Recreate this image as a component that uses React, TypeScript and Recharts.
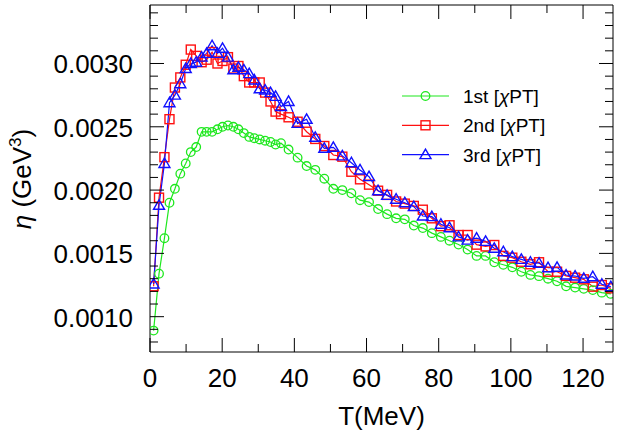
import { LineChart, Line, XAxis, YAxis, Legend } from 'recharts'

// temperature grid (MeV), shared by all three orders
const TEMPS = [
  1.0, 2.5, 4.0, 5.4, 6.9, 8.4, 9.9, 11.3, 12.8, 14.3, 15.7, 17.2, 18.7, 20.1, 21.6, 23.1, 24.5,
  26.0, 27.5, 28.9, 30.4, 31.9, 33.4, 34.8, 36.3,
  38.4, 40.9, 43.4, 45.8, 48.3, 50.8, 53.3, 55.8, 58.2, 60.7, 63.2, 65.7, 68.2, 70.6, 73.1, 75.6,
  78.1, 80.6, 83.0, 85.5, 88.0, 90.5, 93.0, 95.4, 97.9, 100.4, 102.9, 105.4, 107.8, 110.3, 112.8,
  115.3, 117.8, 120.2, 122.7, 125.2, 127.7,
]

const FIRST = [
  0.00089, 0.00134, 0.00162, 0.0019, 0.00201, 0.00213, 0.00221, 0.0023, 0.00234, 0.00246, 0.00246,
  0.00246, 0.00248, 0.0025, 0.00251, 0.0025, 0.00248, 0.00245, 0.00242, 0.00241, 0.0024, 0.00239,
  0.00238, 0.00236, 0.00237,
  0.00232, 0.002256, 0.00219, 0.00216, 0.00209, 0.00201, 0.002, 0.001975, 0.00192, 0.001905,
  0.00185, 0.00181, 0.001777, 0.001769, 0.00172, 0.0017, 0.00166, 0.00163, 0.0016, 0.00157,
  0.00153, 0.00148, 0.00148, 0.00143, 0.00141, 0.00139, 0.001355, 0.00133, 0.00132, 0.0013,
  0.00128, 0.00124, 0.00123, 0.00122, 0.00121, 0.00119, 0.00118,
]

const SECOND = [
  0.00124, 0.00194, 0.00226, 0.00256, 0.00281, 0.00289, 0.00299, 0.00311, 0.00306, 0.00301,
  0.00303, 0.00309, 0.003, 0.00302, 0.00305, 0.00296, 0.00298, 0.0029, 0.00285, 0.00285, 0.00285,
  0.00277, 0.0027, 0.00262, 0.0026,
  0.002575, 0.00254, 0.002461, 0.002404, 0.002348, 0.002277, 0.002264, 0.002145, 0.002085,
  0.002043, 0.001995, 0.001962, 0.00191, 0.001893, 0.001875, 0.001845, 0.001777, 0.001715,
  0.001722, 0.001645, 0.001645, 0.001569, 0.001555, 0.001566, 0.00148, 0.001466, 0.001434,
  0.001414, 0.00143, 0.001355, 0.001355, 0.001322, 0.001308, 0.001295, 0.001237, 0.00125, 0.001224,
]

const THIRD = [
  0.001258, 0.00188, 0.00221, 0.00269, 0.00275, 0.00284, 0.00296, 0.003, 0.00301, 0.00305,
  0.00308, 0.00314, 0.00308, 0.00312, 0.00305, 0.00295, 0.00297, 0.00295, 0.00292, 0.00287,
  0.0028, 0.00279, 0.00277, 0.00274, 0.00266,
  0.0027, 0.002527, 0.002559, 0.002417, 0.00233, 0.002338, 0.00227, 0.002216, 0.002159, 0.002106,
  0.001995, 0.001958, 0.001928, 0.0019, 0.001869, 0.001795, 0.00179, 0.00173, 0.001703, 0.00163,
  0.001605, 0.00162, 0.001595, 0.00154, 0.001513, 0.001474, 0.001453, 0.00143, 0.001422,
  0.001387, 0.00139, 0.001329, 0.001321, 0.001303, 0.001316, 0.001256, 0.001237,
]

const X_TICKS = [0, 10, 20, 30, 40, 50, 60, 70, 80, 90, 100, 110, 120]
const Y_TICKS = [
  0.0008, 0.0009, 0.001, 0.0011, 0.0012, 0.0013, 0.0014, 0.0015, 0.0016, 0.0017, 0.0018, 0.0019,
  0.002, 0.0021, 0.0022, 0.0023, 0.0024, 0.0025, 0.0026, 0.0027, 0.0028, 0.0029, 0.003, 0.0031,
  0.0032, 0.0033, 0.0034,
]

const SERIES = [
  { key: 'first', label: '1st', color: '#1ee81e', shape: 'circle' },
  { key: 'second', label: '2nd', color: '#ff1010', shape: 'square' },
  { key: 'third', label: '3rd', color: '#1010ff', shape: 'triangle' },
]

const data = TEMPS.map((t, i) => ({ t, first: FIRST[i], second: SECOND[i], third: THIRD[i] }))

// layout
const W = 618
const H = 436
const PLOT_LEFT = 150
const PLOT_RIGHT = 613
const PLOT_TOP = 5
const PLOT_BOTTOM = 352
const MAJOR = 14
const MINOR = 8
const FONT = '"Liberation Sans", Arial, Helvetica, sans-serif'

function Marker({ shape, cx, cy, color }: { shape: string; cx: number; cy: number; color: string }) {
  if (shape === 'square')
    return <rect x={cx - 4.5} y={cy - 4.5} width={9} height={9} fill="none" stroke={color} strokeWidth={1.4} />
  if (shape === 'triangle')
    return (
      <polygon
        points={`${cx},${cy - 5.5} ${cx - 5.5},${cy + 4} ${cx + 5.5},${cy + 4}`}
        fill="none"
        stroke={color}
        strokeWidth={1.4}
      />
    )
  return <circle cx={cx} cy={cy} r={4.3} fill="none" stroke={color} strokeWidth={1.3} />
}

function XTick(props: any) {
  const { x, y, payload, index } = props
  const v = payload.value
  const major = v % 20 === 0
  const len = major ? MAJOR : MINOR
  return (
    <g>
      {index === 0 && (
        <g>
          <line x1={PLOT_LEFT} x2={PLOT_RIGHT} y1={PLOT_TOP} y2={PLOT_TOP} stroke="#000" />
          <line x1={PLOT_RIGHT} x2={PLOT_RIGHT} y1={PLOT_TOP} y2={PLOT_BOTTOM} stroke="#000" />
        </g>
      )}
      <line x1={x} x2={x} y1={y} y2={y - len} stroke="#000" />
      <line x1={x} x2={x} y1={PLOT_TOP} y2={PLOT_TOP + len} stroke="#000" />
      {major && (
        <text x={x} y={y + 35} textAnchor="middle" fontSize={26} fill="#000">
          {v}
        </text>
      )}
    </g>
  )
}

function YTick(props: any) {
  const { x, y, payload } = props
  const v = payload.value
  const major = Math.round(v * 10000) % 5 === 0
  const len = major ? MAJOR : MINOR
  return (
    <g>
      <line x1={x} x2={x + len} y1={y} y2={y} stroke="#000" />
      <line x1={PLOT_RIGHT} x2={PLOT_RIGHT - len} y1={y} y2={y} stroke="#000" />
      {major && (
        <text x={x - 17} y={y + 10} textAnchor="end" fontSize={26} fill="#000">
          {v.toFixed(4)}
        </text>
      )}
    </g>
  )
}

const renderYLabel = () => (
  <text transform="translate(31,179) rotate(-90)" textAnchor="middle" fontSize={26} fill="#000">
    <tspan fontStyle="italic">η</tspan>
    <tspan> (GeV</tspan>
    <tspan dy={-10} fontSize={17}>3</tspan>
    <tspan dy={10}>)</tspan>
  </text>
)

const renderLegend = () => (
  <svg width={200} height={90} style={{ fontFamily: FONT }}>
    {SERIES.map((s, i) => {
      const cy = 14 + i * 29.3
      return (
        <g key={s.key}>
          <line x1={0} x2={47} y1={cy} y2={cy} stroke={s.color} strokeWidth={1.2} />
          <Marker shape={s.shape} cx={23.5} cy={cy} color={s.color} />
          <text x={61} y={cy + 7} fontSize={19} fill="#000">
            {s.label} [<tspan fontStyle="italic">χ</tspan>PT]
          </text>
        </g>
      )
    })}
  </svg>
)

export default function App() {
  return (
    <div style={{ position: 'absolute', left: 0, top: 0, width: W, height: H, background: '#fff' }}>
      <LineChart
        width={W}
        height={H}
        data={data}
        margin={{ top: PLOT_TOP, right: W - PLOT_RIGHT, bottom: 0, left: 0 }}
        style={{ fontFamily: FONT }}
      >
        <XAxis
          dataKey="t"
          type="number"
          domain={[0, 128.3]}
          ticks={X_TICKS}
          interval={0}
          tickSize={0}
          tickMargin={0}
          tickLine={false}
          tick={<XTick />}
          height={H - PLOT_BOTTOM}
          stroke="#000"
          allowDataOverflow
          label={{ value: 'T(MeV)', position: 'insideBottom', offset: 11, fontSize: 26, fill: '#000' }}
        />
        <YAxis
          type="number"
          domain={[0.000721, 0.003462]}
          ticks={Y_TICKS}
          interval={0}
          tickSize={0}
          tickMargin={0}
          tickLine={false}
          tick={<YTick />}
          width={PLOT_LEFT}
          stroke="#000"
          allowDataOverflow
          label={{ content: renderYLabel }}
        />
        <Legend
          layout="vertical"
          align="center"
          verticalAlign="middle"
          wrapperStyle={{ left: 402, top: 82, width: 200, height: 90 }}
          content={renderLegend}
        />
        {SERIES.map((s) => (
          <Line
            key={s.key}
            dataKey={s.key}
            type="linear"
            stroke={s.color}
            strokeWidth={1.2}
            isAnimationActive={false}
            dot={(p: any) => <Marker key={`${s.key}-${p.index}`} shape={s.shape} cx={p.cx} cy={p.cy} color={s.color} />}
          />
        ))}
      </LineChart>
    </div>
  )
}
